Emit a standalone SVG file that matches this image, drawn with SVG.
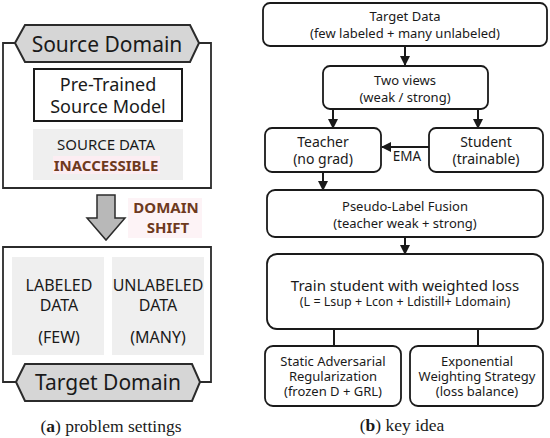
<svg xmlns="http://www.w3.org/2000/svg" width="550" height="438" viewBox="0 0 550 438">
<defs>
<style>
.t{font-family:"Noto Sans","Open Sans","DejaVu Sans",sans-serif;fill:#1a1a1a;text-anchor:middle}
.frame{fill:none;stroke:#2b2b2b;stroke-width:1.8}
.hex{fill:#d6d6d6;stroke:#2b2b2b;stroke-width:2}
.gbox{fill:#efefef;stroke:none}
.node{fill:#fff;stroke:#1a1a1a;stroke-width:1.8}
.conn{stroke:#1a1a1a;stroke-width:2;fill:none}
.warn{font-family:"Noto Sans","Open Sans",sans-serif;font-weight:bold;fill:#6e3a1e;text-anchor:middle}
.cap{font-family:"Liberation Serif","DejaVu Serif",serif;fill:#1a1a1a;text-anchor:middle;font-size:17.5px}
</style>
<marker id="ah" viewBox="0 0 10 10" refX="9" refY="5" markerWidth="5" markerHeight="5" orient="auto" markerUnits="strokeWidth">
<path d="M0,0 L10,5 L0,10 z" fill="#1a1a1a"/>
</marker>
</defs>
<rect width="550" height="438" fill="#fff"/>

<!-- (a) problem settings -->
<g id="source-domain">
<path class="frame" d="M15,43 H3 V188 H211 V43 H199"/>
<polygon class="hex" points="15,43 25,25 190,25 199,43 190,62 25,62"/>
<text class="t" x="107" y="52" font-size="21">Source Domain</text>
</g>
<g id="pretrained-model">
<rect x="34" y="69" width="148" height="52" fill="#fff" stroke="#1a1a1a" stroke-width="2"/>
<text class="t" x="108" y="91" font-size="18">Pre-Trained</text>
<text class="t" x="108" y="113" font-size="18">Source Model</text>
</g>
<g id="source-data">
<rect class="gbox" x="33" y="129" width="150" height="51"/>
<rect x="53" y="156" width="107" height="18" fill="#fcedf2"/>
<text class="t" x="106" y="150" font-size="15">SOURCE DATA</text>
<text class="warn" x="106" y="171" font-size="15" fill="#8a3a2a">INACCESSIBLE</text>
</g>
<g id="domain-shift">
<polygon points="97,195 115,195 115,218 125,218 106,240 87,218 97,218" fill="#b8b8b8" stroke="#2b2b2b" stroke-width="1.5"/>
<rect x="128" y="198" width="74" height="40" fill="#fdf3f6"/>
<text class="warn" x="166" y="213" font-size="15">DOMAIN</text>
<text class="warn" x="168" y="233" font-size="15">SHIFT</text>
</g>
<g id="target-domain">
<path class="frame" d="M16,382 H3 V247 H211 V382 H200"/>
<rect class="gbox" x="12" y="257" width="92" height="98"/>
<rect class="gbox" x="112" y="257" width="92" height="98"/>
<text class="t" x="59" y="291" font-size="16">LABELED</text>
<text class="t" x="59" y="311" font-size="16">DATA</text>
<text class="t" x="59" y="343" font-size="16">(FEW)</text>
<text class="t" x="158" y="291" font-size="16">UNLABELED</text>
<text class="t" x="158" y="311" font-size="16">DATA</text>
<text class="t" x="158" y="343" font-size="16">(MANY)</text>
<polygon class="hex" points="16,382 25,364 192,364 200,382 192,401 25,401"/>
<text class="t" x="108" y="390" font-size="21">Target Domain</text>
</g>
<text class="cap" x="111" y="432">(<tspan font-weight="bold">a</tspan>) problem settings</text>

<!-- (b) key idea -->
<g id="connectors">
<line class="conn" x1="405" y1="46" x2="405" y2="65" marker-end="url(#ah)"/>
<line class="conn" x1="333" y1="109" x2="333" y2="128" marker-end="url(#ah)"/>
<line class="conn" x1="478" y1="109" x2="478" y2="128" marker-end="url(#ah)"/>
<line class="conn" x1="429" y1="147" x2="382" y2="147" marker-end="url(#ah)"/>
<line class="conn" x1="323" y1="172" x2="323" y2="190" marker-end="url(#ah)"/>
<line class="conn" x1="405" y1="237" x2="405" y2="254" marker-end="url(#ah)"/>
<line class="conn" x1="334" y1="329" x2="334" y2="346"/>
<line class="conn" x1="478" y1="329" x2="478" y2="346"/>
<text class="t" x="407" y="161" font-size="13.5">EMA</text>
</g>
<g id="target-data">
<rect class="node" x="263" y="3" width="284" height="43" rx="7"/>
<text class="t" x="405" y="21" font-size="13">Target Data</text>
<text class="t" x="405" y="38" font-size="13">(few labeled + many unlabeled)</text>
</g>
<g id="two-views">
<rect class="node" x="323" y="66" width="165" height="43" rx="7"/>
<text class="t" x="405" y="85" font-size="13">Two views</text>
<text class="t" x="405" y="102" font-size="13">(weak / strong)</text>
</g>
<g id="teacher">
<rect class="node" x="265" y="128" width="116" height="44" rx="7"/>
<text class="t" x="323" y="147" font-size="14">Teacher</text>
<text class="t" x="323" y="164" font-size="14">(no grad)</text>
</g>
<g id="student">
<rect class="node" x="429" y="128" width="114" height="44" rx="7"/>
<text class="t" x="486" y="147" font-size="14">Student</text>
<text class="t" x="486" y="164" font-size="14">(trainable)</text>
</g>
<g id="pseudo-label">
<rect class="node" x="267" y="190" width="276" height="47" rx="8"/>
<text class="t" x="405" y="211" font-size="13">Pseudo-Label Fusion</text>
<text class="t" x="405" y="228" font-size="13">(teacher weak + strong)</text>
</g>
<g id="train-student">
<rect class="node" x="267" y="254" width="276" height="75" rx="10"/>
<text class="t" x="405" y="291" font-size="15">Train student with weighted loss</text>
<text class="t" x="405" y="306" font-size="12.5">(L = Lsup + Lcon + Ldistill+ Ldomain)</text>
</g>
<g id="static-adversarial">
<rect class="node" x="265" y="346" width="136" height="60" rx="8"/>
<text class="t" x="333" y="366" font-size="13">Static Adversarial</text>
<text class="t" x="333" y="381" font-size="13">Regularization</text>
<text class="t" x="333" y="396" font-size="13">(frozen D + GRL)</text>
</g>
<g id="exponential-weighting">
<rect class="node" x="410" y="346" width="133" height="60" rx="8"/>
<text class="t" x="477" y="366" font-size="13">Exponential</text>
<text class="t" x="477" y="381" font-size="13">Weighting Strategy</text>
<text class="t" x="477" y="396" font-size="13">(loss balance)</text>
</g>
<text class="cap" x="402" y="431">(<tspan font-weight="bold">b</tspan>) key idea</text>
</svg>
